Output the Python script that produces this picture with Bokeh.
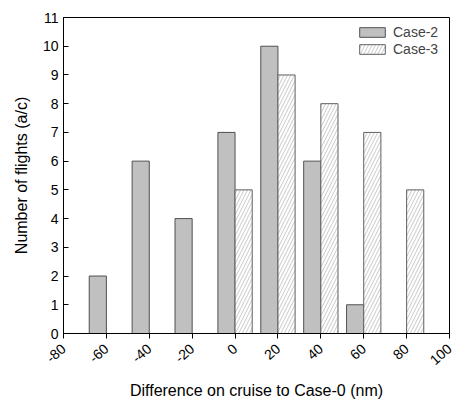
import math
from bokeh.plotting import figure
from bokeh.models import (ColumnDataSource, FixedTicker, Legend, LegendItem, Range1d,
                          PrintfTickFormatter)
from bokeh.embed import file_html
from bokeh.resources import INLINE

# Binned difference in cruise distance relative to Case-0 (nm)
bin_centers = [-60, -40, -20, 0, 20, 40, 60, 80]
case2_counts = [2, 6, 4, 7, 10, 6, 1, 0]
case3_counts = [0, 0, 0, 5, 9, 8, 7, 5]
x_ticks = [-80, -60, -40, -20, 0, 20, 40, 60, 80, 100]
y_ticks = list(range(0, 12))

BAR_W = 8  # nm per bar; Case-2 sits left of the bin edge, Case-3 right

def bars(counts, offset):
    xs, tops = [], []
    for c, n in zip(bin_centers, counts):
        if n > 0:
            xs.append(c + offset)
            tops.append(n)
    return ColumnDataSource(dict(x=xs, top=tops))

src2 = bars(case2_counts, -BAR_W / 2)
src3 = bars(case3_counts, BAR_W / 2)

FONT = "Liberation Sans"

p = figure(width=454, height=405, output_backend="svg", toolbar_location=None,
           x_range=Range1d(-80, 100), y_range=Range1d(0, 11),
           min_border_left=63, min_border_right=5, min_border_top=17, min_border_bottom=72)

r2 = p.vbar(x="x", top="top", width=BAR_W, bottom=0, source=src2,
            fill_color="#c0c0c0", line_color="#505050", line_width=1)
r3 = p.vbar(x="x", top="top", width=BAR_W, bottom=0, source=src3,
            fill_color="white", line_color="#606060", line_width=1,
            hatch_pattern="/", hatch_color="#c8c8c8", hatch_scale=7, hatch_weight=1)

p.grid.visible = False
p.outline_line_color = "black"
p.outline_line_width = 1
p.background_fill_color = "white"
p.border_fill_color = "white"

xa = p.xaxis[0]
xa.ticker = FixedTicker(ticks=x_ticks)
xa.formatter = PrintfTickFormatter(format="%d")
xa.minor_tick_line_color = None
xa.major_tick_in = 0
xa.major_tick_out = 5
xa.major_label_orientation = 0.72
xa.major_label_standoff = 8
xa.axis_label = "Difference on cruise to Case-0 (nm)"
xa.axis_label_standoff = 10

ya = p.yaxis[0]
ya.ticker = FixedTicker(ticks=y_ticks)
ya.minor_tick_line_color = None
ya.major_tick_in = 5
ya.major_tick_out = 0
ya.major_label_standoff = 5
ya.axis_label = "Number of flights (a/c)"
ya.axis_label_standoff = 10

for ax in (xa, ya):
    ax.axis_line_color = "black"
    ax.major_tick_line_color = "black"
    ax.major_label_text_font = FONT
    ax.major_label_text_font_size = "14px"
    ax.major_label_text_color = "black"
    ax.axis_label_text_font = FONT
    ax.axis_label_text_font_size = "16px"
    ax.axis_label_text_font_style = "normal"
    ax.axis_label_text_color = "black"

legend = Legend(items=[LegendItem(label="Case-2", renderers=[r2]),
                       LegendItem(label="Case-3", renderers=[r3])],
                location=(293, 276), border_line_color=None,
                background_fill_alpha=0, glyph_width=32, glyph_height=12,
                label_height=13, label_text_font=FONT, label_text_font_size="14px",
                spacing=1, padding=4, margin=0, label_standoff=5)
p.add_layout(legend)

open("out.html", "w").write(file_html(p, INLINE))
